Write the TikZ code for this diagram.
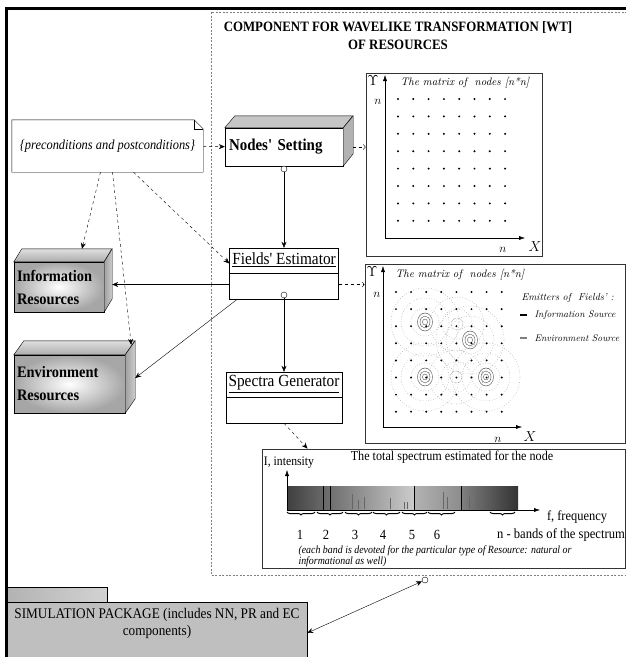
\documentclass[tikz,border=0pt]{standalone}
\usepackage{fontspec}
\usetikzlibrary{arrows.meta,positioning,decorations.pathreplacing,calc}
\newfontfamily\tnr[FakeStretch=0.9]{Liberation Serif}
\newcommand{\setfs}[2]{\fontsize{#1}{#2}\selectfont}

\begin{document}
\begin{tikzpicture}[x=1pt,y=-1pt,
    flow/.style={-{Stealth[length=6pt,width=5pt]}},
    depflow/.style={dashed,-{Stealth[length=6pt,width=5pt]}},
    fieldflow/.style={dashed,->},
    port/.style={draw,circle,fill=white,inner sep=0pt,minimum size=6pt},
    classbox/.style={draw,fill=white,inner sep=0pt},
    resbox/.style={draw,inner color=white,outer color=gray!70,inner sep=3pt,align=left,
      font=\tnr\bfseries\setfs{16}{23}},
    panel/.style={draw=black!80,line width=0.8pt,inner sep=0pt},
    ax/.style={-{Latex[length=6pt,width=4pt]}},
    mlabel/.style={font=\setfs{13}{13}},
    ring/.style={gray!60,dotted,line width=0.6pt},
    band/.style={decorate,decoration={brace,amplitude=3pt},line width=1pt}]
  \useasboundingbox (0,0) rectangle (626,657);

  % Frame and component
  \draw[line width=3pt] (6,670) -- (6,8) -- (640,8);
  \draw[gray,dash pattern=on 2pt off 1.5pt] (211,12) rectangle (640,575);
  \node[font=\tnr\bfseries\setfs{14.3}{18},align=center] (title) at (398,36)
    {COMPONENT FOR WAVELIKE TRANSFORMATION [WT]\\OF RESOURCES};

  % Conditions note
  \node[minimum width=191pt,minimum height=52pt,inner sep=0pt,
        font=\tnr\itshape\setfs{13.8}{16}] (cond) at (107.5,146)
    {\{preconditions and postconditions\}};
  \draw (cond.south west) -- (cond.north west) -- ([xshift=-9pt]cond.north east)
    -- ([yshift=-9pt]cond.north east) -- (cond.south east) -- cycle;
  \draw ([xshift=-9pt]cond.north east) |- ([yshift=-9pt]cond.north east);

  % Nodes' Setting
  \node[classbox,minimum width=118pt,minimum height=38pt,text width=110pt,align=left,
        font=\tnr\bfseries\setfs{16.6}{20}] (nset) at (284,147) {Nodes' Setting};
  \filldraw[fill=gray!45] (nset.north west) -- ++(10,-12) -- ++(118,0) -- (nset.north east) -- cycle;
  \filldraw[fill=gray!60] (nset.north east) -- ++(10,-12) -- ++(0,38) -- (nset.south east) -- cycle;
  \node[port] (nsport) at (284,169) {};

  % Fields' Estimator
  \node[classbox,minimum width=109pt,minimum height=51pt] (fest) at (284,273.5) {};
  \draw (fest.west) -- (fest.east);
  \node[font=\tnr\setfs{17}{20}] (festname) at (284,260) {\underline{Fields' Estimator}};
  \node[port] (feport) at (284,295) {};

  % Spectra Generator
  \node[classbox,minimum width=116pt,minimum height=51pt] (sgen) at (284,397.5) {};
  \draw (sgen.west) -- (sgen.east);
  \node[font=\tnr\setfs{17}{20}] (sgenname) at (284,384) {\underline{Spectra Generator}};

  % Resources
  \node[resbox,minimum width=90pt,minimum height=50pt,text width=84pt] (info) at (59,287)
    {Information\\Resources};
  \shade[draw,top color=gray!25,bottom color=gray!65] (info.north west) -- ++(8,-13) -- ++(90,0)
    -- (info.north east) -- cycle;
  \shade[draw,left color=gray!75,right color=gray!40] (info.north east) -- ++(8,-13) -- ++(0,50)
    -- (info.south east) -- cycle;
  \node[resbox,minimum width=111pt,minimum height=58pt,text width=105pt] (env) at (69.5,384)
    {Environment\\Resources};
  \shade[draw,top color=gray!25,bottom color=gray!65] (env.north west) -- ++(10,-14) -- ++(111,0)
    -- (env.north east) -- cycle;
  \shade[draw,left color=gray!75,right color=gray!40] (env.north east) -- ++(10,-14) -- ++(0,58)
    -- (env.south east) -- cycle;

  % Matrix of nodes
  \node[panel,minimum width=176pt,minimum height=183pt] (mat1) at (454,164.5) {};
  \draw[ax] (385,238) -- (385,75);
  \draw[ax] (385,238) -- (525,238);
  \node[font=\setfs{15}{15}] (mat1y) at (373,81) {$\Upsilon$};
  \node[mlabel] (mat1n) at (378,102) {$n$};
  \node[mlabel] (mat1nx) at (503,250) {$n$};
  \node[font=\setfs{15}{15}] (mat1x) at (535,247) {$X$};
  \node[font=\itshape\setfs{10.9}{12}] (mat1title) at (465,83) {The matrix of\ \ nodes [n*n]};
  \foreach \i in {0,...,7}
    \foreach \j in {0,...,7}
      \fill (398+15.3*\i,99+17.4*\j) circle[radius=1.1];

  % Matrix with fields
  \node[panel,minimum width=260pt,minimum height=179pt] (mat2) at (495,353.5) {};
  \foreach \ex/\ey in {425/322, 470/340, 425/377, 486/377} {
    \foreach \r in {14,24,34}
      \draw[ring] (\ex,\ey) circle[radius=\r];
    \foreach \r in {2.5,5,7.5}
      \draw[black!75] (\ex,\ey) ellipse[x radius=\r,y radius=1.2*\r];
  }
  \foreach \ex/\ey in {457/324, 456/377} {
    \foreach \r in {15,27}
      \draw[ring] (\ex,\ey) circle[radius=\r];
    \draw[black!70,densely dotted] (\ex,\ey) circle[radius=6];
  }
  \foreach \i in {0,...,7}
    \foreach \j in {0,...,7}
      \fill (396+15.1*\i,292+17.1*\j) circle[radius=1.1];
  \draw[ax] (383,427) -- (383,266);
  \draw[ax] (383,427) -- (522,427);
  \node[font=\setfs{15}{15}] (mat2y) at (372,272) {$\Upsilon$};
  \node[mlabel] (mat2n) at (377,295) {$n$};
  \node[mlabel] (mat2nx) at (498,440) {$n$};
  \node[font=\setfs{15}{15}] (mat2x) at (530,437) {$X$};
  \node[font=\itshape\setfs{10.9}{12}] (mat2title) at (460,275) {The matrix of\ \ nodes [n*n]};
  \node[font=\itshape\setfs{10}{12},anchor=west] (emit) at (518,298) {Emitters of\ \ Fields' :};
  \draw[line width=2.5pt] (520,315) -- (527,315);
  \node[font=\itshape\setfs{9.6}{12},anchor=west] (infosrc) at (531,315) {Information Source};
  \draw[line width=2.5pt,gray] (520,338) -- (527,338);
  \node[font=\itshape\setfs{9.6}{12},anchor=west] (envsrc) at (531,338) {Environment Source};

  % Total spectrum
  \node[panel,minimum width=363pt,minimum height=119pt] (spec) at (443.5,508.5) {};
  \shade[left color=black!75,right color=black!20] (287,486) rectangle (414,509);
  \shade[left color=black!30,right color=black!45] (414,486) rectangle (461,509);
  \shade[left color=black!50,right color=black!80] (461,486) rectangle (518,509);
  \foreach \lx/\ly in {318/497, 352/494, 358/500, 364/497, 390/498, 404/502, 407/502,
                       443/492, 447/497, 469/497, 477/495}
    \draw[black!60] (\lx,\ly) -- (\lx,509);
  \foreach \lx in {323,330,414,461}
    \draw[line width=1pt] (\lx,486) -- (\lx,510);
  \draw[ax] (287,510) -- (287,470);
  \draw[ax] (287,510) -- (540,510);
  \foreach \a/\b in {287/315, 317/343, 345/372, 373/400, 402/427, 428/455, 490/515}
    \draw[band] (\b,512) -- (\a,512);
  \node[font=\tnr\setfs{13.5}{15}] (spectitle) at (452,457) {The total spectrum estimated for the node};
  \node[font=\tnr\setfs{13}{15}] (intens) at (289,463) {I, intensity};
  \node[font=\tnr\setfs{13.8}{15}] (freq) at (577,517) {f, frequency};
  \foreach \nx/\nb in {300/1, 326/2, 355/3, 383/4, 412/5, 437/6}
    \node[font=\tnr\setfs{14}{15}] (band\nb) at (\nx,535) {\nb};
  \node[font=\tnr\setfs{14}{15}] (bandsn) at (561,535) {n - bands of the spectrum};
  \node[font=\tnr\itshape\setfs{11}{11},anchor=north west,align=left] (bandnote) at (295,542)
    {(each band is devoted for the particular type of Resource: natural or\\informational as well)};

  % Simulation package
  \shade[draw,left color=gray!60,right color=gray!35] (7,587) rectangle (107,602);
  \node[draw,fill=gray!50,minimum width=300pt,minimum height=62pt] (simpkg) at (157,633) {};
  \node[font=\tnr\setfs{14.7}{17},align=center] (simtext) at (157,623)
    {SIMULATION PACKAGE (includes NN, PR and EC\\components)};
  \node[port] (pkport) at (425,580) {};

  % Connectors
  \coordinate (infoside) at ([xshift=8pt]info.east);
  \coordinate (infotop) at ([xshift=23pt,yshift=13pt]info.north);
  \coordinate (envside) at ([xshift=10pt,yshift=6pt]env.east);
  \coordinate (envtop) at ([xshift=6pt,yshift=10pt]env.north east);
  \coordinate (feleft) at ([yshift=-11pt]fest.west);
  \coordinate (feright) at ([yshift=-11pt]fest.east);
  \coordinate (nsside) at ([xshift=10pt]nset.east);
  \coordinate (spectop) at ([xshift=-136pt]spec.north);
  \draw[depflow] (cond) -- (nset);
  \draw[depflow] ([xshift=-7pt]cond.south) -- (infotop);
  \draw[depflow] ([xshift=5pt]cond.south) -- (envtop);
  \draw[depflow] ([xshift=26pt]cond.south) -- ([yshift=10pt]fest.west);
  \draw[flow] (nsport) -- (fest);
  \draw[flow] (feport) -- (sgen);
  \draw[flow] (feleft) -- (feleft -| infoside);
  \draw[flow] ([xshift=8pt]fest.south west) -- (envside);
  \draw[fieldflow] (nsside) -- (nsside -| mat1.west);
  \draw[fieldflow] (feright) -- (feright -| mat2.west);
  \draw[depflow] (sgen.south) -- (spectop);
  \draw[{Stealth[length=6pt,width=5pt]}-{Stealth[length=6pt,width=5pt]}] (simpkg.east) -- (pkport);
\end{tikzpicture}
\end{document}
